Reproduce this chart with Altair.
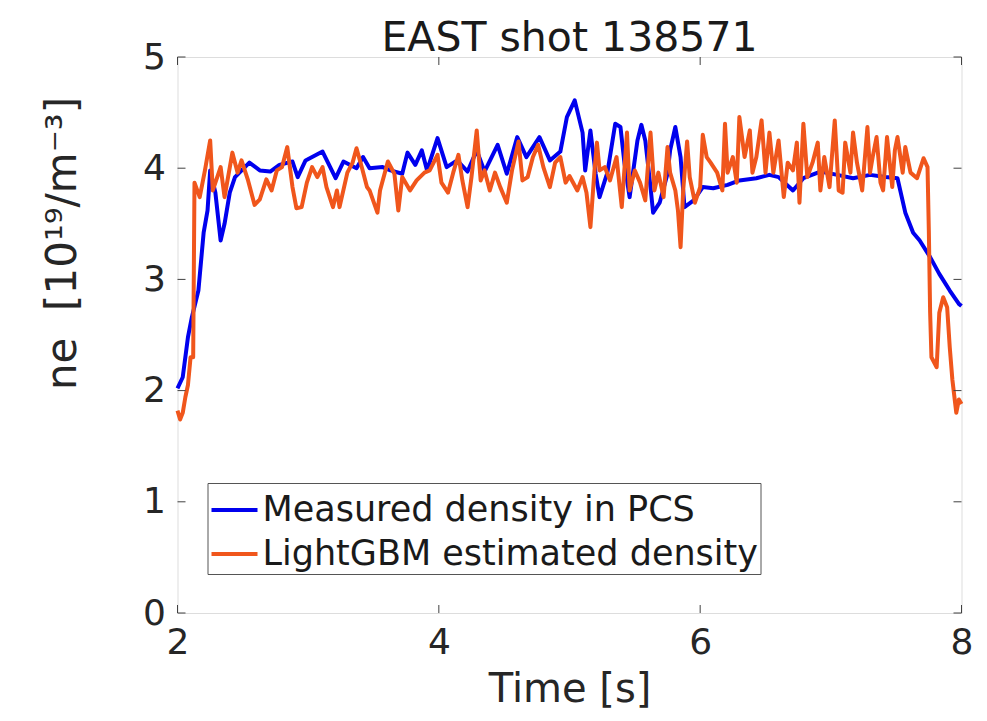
import altair as alt
import pandas as pd

# ---------------- data ----------------
measured_t = [2.00, 2.04, 2.08, 2.11, 2.16, 2.20, 2.23, 2.25, 2.29, 2.33, 2.36, 2.40, 2.44,
              2.55, 2.63, 2.71, 2.78, 2.88, 2.92, 2.98, 3.11, 3.21, 3.27, 3.37, 3.42, 3.47,
              3.57, 3.63, 3.72, 3.76, 3.82, 3.87, 3.91, 3.99, 4.06, 4.14, 4.22, 4.29, 4.35,
              4.45, 4.52, 4.60, 4.67, 4.77, 4.85, 4.93, 4.98, 5.04, 5.10, 5.12, 5.16, 5.20,
              5.23, 5.29, 5.35, 5.39, 5.42, 5.46, 5.52, 5.55, 5.58, 5.62, 5.64, 5.69, 5.75,
              5.77, 5.81, 5.85, 5.88, 5.95, 6.02, 6.10, 6.21, 6.30, 6.43, 6.53, 6.60, 6.71,
              6.79, 6.92, 7.05, 7.17, 7.30, 7.42, 7.51, 7.57, 7.63, 7.68, 7.76, 7.83, 7.91,
              7.98, 8.00]
measured_ne = [2.02, 2.12, 2.48, 2.66, 2.90, 3.42, 3.62, 3.98, 3.78, 3.35, 3.50, 3.78, 3.92,
               4.05, 3.98, 3.97, 4.03, 4.06, 3.92, 4.07, 4.15, 3.91, 4.06, 4.00, 4.10, 4.00,
               4.01, 3.98, 3.95, 4.14, 4.03, 4.16, 3.98, 4.27, 4.01, 4.07, 3.97, 4.16, 3.97,
               4.21, 3.95, 4.28, 4.10, 4.28, 4.07, 4.15, 4.46, 4.61, 4.32, 3.98, 4.34, 3.95,
               3.74, 3.96, 4.40, 4.37, 4.05, 3.74, 4.25, 4.39, 4.25, 3.83, 3.60, 3.69, 3.95,
               4.16, 4.37, 4.10, 3.65, 3.71, 3.83, 3.82, 3.85, 3.89, 3.91, 3.94, 3.92, 3.80,
               3.91, 3.97, 3.94, 3.91, 3.94, 3.92, 3.91, 3.60, 3.42, 3.35, 3.20, 3.05, 2.90,
               2.78, 2.76]

lgbm_t = [2.00, 2.02, 2.04, 2.06, 2.08, 2.10, 2.12, 2.13, 2.17, 2.21, 2.25, 2.27, 2.33, 2.36,
          2.42, 2.46, 2.49, 2.54, 2.59, 2.63, 2.68, 2.72, 2.76, 2.80, 2.84, 2.88, 2.91, 2.95,
          2.99, 3.03, 3.07, 3.11, 3.14, 3.19, 3.22, 3.24, 3.30, 3.34, 3.37, 3.41, 3.45, 3.47,
          3.53, 3.55, 3.61, 3.66, 3.69, 3.72, 3.78, 3.83, 3.89, 3.93, 3.99, 4.02, 4.07, 4.11,
          4.15, 4.18, 4.22, 4.25, 4.29, 4.32, 4.35, 4.39, 4.43, 4.47, 4.52, 4.56, 4.61, 4.64,
          4.68, 4.72, 4.76, 4.80, 4.85, 4.89, 4.93, 4.97, 5.00, 5.06, 5.10, 5.13, 5.16, 5.19,
          5.21, 5.23, 5.27, 5.31, 5.36, 5.40, 5.44, 5.46, 5.50, 5.54, 5.58, 5.62, 5.65, 5.68,
          5.72, 5.75, 5.77, 5.81, 5.83, 5.85, 5.87, 5.90, 5.92, 5.96, 6.00, 6.02, 6.05, 6.08,
          6.13, 6.17, 6.19, 6.21, 6.25, 6.28, 6.30, 6.34, 6.38, 6.40, 6.43, 6.47, 6.50, 6.53,
          6.56, 6.60, 6.64, 6.67, 6.71, 6.74, 6.76, 6.79, 6.82, 6.86, 6.90, 6.92, 6.95, 6.99,
          7.03, 7.06, 7.09, 7.11, 7.15, 7.17, 7.20, 7.24, 7.28, 7.30, 7.32, 7.35, 7.38, 7.40,
          7.43, 7.47, 7.49, 7.51, 7.55, 7.57, 7.61, 7.66, 7.71, 7.74, 7.75, 7.76, 7.77, 7.81,
          7.83, 7.86, 7.89, 7.91, 7.93, 7.96, 7.98, 8.00]
lgbm_ne = [1.82, 1.74, 1.80, 1.94, 2.05, 2.30, 2.30, 3.87, 3.74, 3.98, 4.25, 3.80, 4.01, 3.74,
           4.14, 3.96, 4.07, 3.89, 3.67, 3.72, 3.90, 3.80, 3.98, 4.01, 4.19, 3.83, 3.64, 3.65,
           3.87, 4.01, 3.92, 4.01, 3.83, 3.65, 3.80, 3.65, 3.96, 4.05, 4.18, 4.01, 3.83, 3.80,
           3.60, 3.80, 4.06, 3.95, 3.62, 3.92, 3.80, 3.89, 3.96, 3.98, 4.12, 3.87, 3.78, 3.96,
           4.12, 3.89, 3.65, 3.92, 4.34, 3.89, 3.98, 3.80, 3.96, 3.83, 3.69, 3.98, 4.24, 3.89,
           3.92, 4.10, 4.21, 4.01, 3.83, 4.05, 4.10, 3.87, 3.93, 3.80, 3.92, 3.78, 3.47, 3.96,
           4.23, 3.98, 4.01, 3.89, 4.10, 3.65, 4.32, 3.80, 3.98, 3.87, 3.71, 4.32, 3.80, 3.96,
           3.74, 4.19, 3.96, 3.80, 3.62, 3.29, 3.80, 4.24, 3.92, 3.69, 3.83, 4.30, 4.10, 4.05,
           3.96, 3.80, 4.40, 3.96, 4.10, 3.87, 4.46, 4.10, 4.34, 3.96, 4.10, 4.43, 3.96, 4.32,
           3.96, 4.25, 3.74, 4.05, 3.98, 4.23, 3.69, 4.40, 3.92, 4.05, 4.23, 3.80, 4.10, 3.83,
           4.43, 3.80, 3.78, 4.23, 3.96, 4.32, 4.05, 3.80, 4.37, 3.96, 4.10, 4.28, 3.87, 3.80,
           4.28, 3.83, 4.16, 4.28, 3.96, 4.19, 3.96, 3.91, 4.09, 4.01, 3.44, 2.70, 2.30, 2.21,
           2.70, 2.84, 2.75, 2.39, 2.10, 1.80, 1.92, 1.88]

series_names = ["Measured density in PCS", "LightGBM estimated density"]
series_colors = ["#0000EE", "#F0561C"]
x_ticks = [2, 4, 6, 8]
y_ticks = [0, 1, 2, 3, 4, 5]

df_meas = pd.DataFrame({"t": measured_t, "ne": measured_ne, "series": series_names[0]})
df_lgbm = pd.DataFrame({"t": lgbm_t, "ne": lgbm_ne, "series": series_names[1]})
df_xt = pd.DataFrame({"t": x_ticks})
df_yt = pd.DataFrame({"ne": y_ticks})

W, H = 784, 556
FONT = "DejaVu Sans"
TXT = "#262626"
TICK_LEN = 8

x_scale = alt.Scale(domain=[2, 8], nice=False, zero=False)
y_scale = alt.Scale(domain=[0, 5], nice=False)
color_scale = alt.Scale(domain=series_names, range=series_colors)

x_axis = alt.Axis(values=x_ticks, title="Time [s]", format="d", grid=False, ticks=False,
                  domain=False, labelFlush=False, labelFont=FONT, labelFontSize=36,
                  labelColor=TXT, labelPadding=12, titleFont=FONT, titleFontSize=40,
                  titleFontWeight="normal", titleColor=TXT, titleY=76,
                  titleBaseline="middle")
y_axis = alt.Axis(values=y_ticks, title="ne\u00a0\u00a0[10¹⁹/m⁻³]", format="d", grid=False,
                  ticks=False, domain=False, labelFlush=False, labelFont=FONT,
                  labelFontSize=36, labelColor=TXT, labelPadding=12, titleFont=FONT,
                  titleFontSize=42, titleFontWeight="normal", titleColor=TXT,
                  titleX=-115, titleY=186, titleAngle=270, titleAlign="center",
                  titleBaseline="middle")

legend = alt.Legend(title=None, orient="none", legendX=30, legendY=426,
                    symbolType="stroke", symbolSize=2116, symbolStrokeWidth=4,
                    labelFont=FONT, labelFontSize=35, labelColor="#1a1a1a", labelLimit=0,
                    labelOffset=3, rowPadding=1, padding=2, strokeColor="#555555",
                    fillColor="white")

X = alt.X("t:Q", scale=x_scale, axis=x_axis)
Y = alt.Y("ne:Q", scale=y_scale, axis=y_axis)
C = alt.Color("series:N", scale=color_scale, legend=legend)

meas_line = alt.Chart(df_meas).mark_line(strokeWidth=4, strokeJoin="round").encode(
    x=X, y=Y, color=C)
lgbm_line = alt.Chart(df_lgbm).mark_line(strokeWidth=4, strokeJoin="round").encode(
    x=X, y=Y, color=C)

tick_color = "#404040"
xt_bottom = alt.Chart(df_xt).mark_rule(color=tick_color, strokeWidth=1).encode(
    x=X, y=alt.value(H), y2=alt.value(H - TICK_LEN))
xt_top = alt.Chart(df_xt).mark_rule(color=tick_color, strokeWidth=1).encode(
    x=X, y=alt.value(0), y2=alt.value(TICK_LEN))
yt_left = alt.Chart(df_yt).mark_rule(color=tick_color, strokeWidth=1).encode(
    y=Y, x=alt.value(0), x2=alt.value(TICK_LEN))
yt_right = alt.Chart(df_yt).mark_rule(color=tick_color, strokeWidth=1).encode(
    y=Y, x=alt.value(W), x2=alt.value(W - TICK_LEN))

chart = alt.layer(meas_line, lgbm_line, xt_bottom, xt_top, yt_left, yt_right).properties(
    width=W, height=H,
    title=alt.TitleParams("EAST shot 138571", font=FONT, fontSize=41, fontWeight="normal",
                          color="#1a1a1a", offset=6, dy=27, anchor="middle"),
    padding={"left": 177.5, "top": 57, "right": 25.5, "bottom": 108},
    autosize=alt.AutoSizeParams(type="none"),
).configure_view(stroke="#404040", strokeWidth=1.2).configure(background="white")

chart.save("out.html", embed_options={"renderer": "svg", "actions": False})
